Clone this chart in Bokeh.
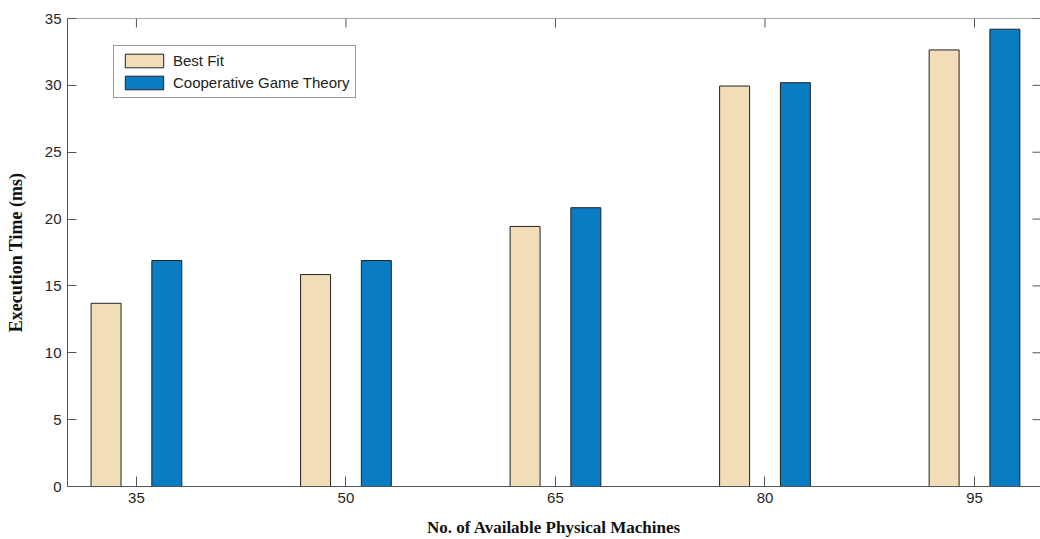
from bokeh.plotting import figure
from bokeh.models import (Range1d, FixedTicker, ColumnDataSource, Legend, LegendItem, Span)
from bokeh.transform import dodge
from bokeh.embed import file_html
from bokeh.resources import INLINE

# ---- data ----
categories = ["35", "50", "65", "80", "95"]
best_fit = [13.7, 15.85, 19.45, 29.95, 32.65]
coop_game = [16.9, 16.9, 20.85, 30.2, 34.2]
y_ticks = [0, 5, 10, 15, 20, 25, 30, 35]

xpos = list(range(1, len(categories) + 1))
src = ColumnDataSource(dict(x=xpos, bf=best_fit, cg=coop_game))

AX = "#555555"
TXT = "#262626"

FRAME_W = 973   # frame width in px (67 .. 1040)
FRAME_H = 468   # frame height in px (18 .. 486)

p = figure(width=1040, height=539, output_backend="svg", toolbar_location=None,
           x_range=Range1d(0.671, 5.315), y_range=Range1d(0, 35),
           min_border_left=67, min_border_right=0, min_border_top=18,
           min_border_bottom=0, outline_line_color=None,
           background_fill_color="white", border_fill_color="white")
p.xgrid.visible = False
p.ygrid.visible = False

# pixel-unit helper ranges for the top / right inward ticks
p.extra_y_ranges = {"py": Range1d(0, FRAME_H)}
p.extra_x_ranges = {"px": Range1d(0, FRAME_W)}

r1 = p.vbar(x=dodge("x", -0.145), top="bf", width=0.143, source=src,
            fill_color="#F2DDB9", line_color="#222222", line_width=1)
r2 = p.vbar(x=dodge("x", 0.145), top="cg", width=0.143, source=src,
            fill_color="#0A7CC4", line_color="#222222", line_width=1)

# top border line
p.add_layout(Span(location=35, dimension="width", line_color=AX, line_width=1))

# top inward ticks at the category positions
top_src = ColumnDataSource(dict(x=xpos, y0=[FRAME_H] * len(xpos), y1=[FRAME_H - 9] * len(xpos)))
p.segment(x0="x", y0="y0", x1="x", y1="y1", source=top_src, y_range_name="py",
          line_color=AX, line_width=1)
# right inward ticks at the y tick values
right_src = ColumnDataSource(dict(y=y_ticks, x0=[FRAME_W] * len(y_ticks),
                                  x1=[FRAME_W - 8] * len(y_ticks)))
p.segment(x0="x0", y0="y", x1="x1", y1="y", source=right_src, x_range_name="px",
          line_color=AX, line_width=1)

# bottom axis
xa = p.xaxis[0]
xa.ticker = FixedTicker(ticks=xpos)
xa.major_label_overrides = {i + 1: c for i, c in enumerate(categories)}
xa.minor_tick_line_color = None
xa.major_tick_in = 10
xa.major_tick_out = 0
xa.axis_line_color = AX
xa.major_tick_line_color = AX
xa.major_label_text_font = "Liberation Sans"
xa.major_label_text_font_size = "15px"
xa.major_label_text_color = TXT
xa.major_label_standoff = 6
xa.axis_label = "No. of Available Physical Machines"
xa.axis_label_text_font = "Liberation Serif"
xa.axis_label_text_font_style = "bold"
xa.axis_label_text_font_size = "17px"
xa.axis_label_text_color = "#111111"
xa.axis_label_standoff = 12

# left axis
ya = p.yaxis[0]
ya.ticker = FixedTicker(ticks=y_ticks)
ya.minor_tick_line_color = None
ya.major_tick_in = 9
ya.major_tick_out = 0
ya.axis_line_color = AX
ya.major_tick_line_color = AX
ya.major_label_text_font = "Liberation Sans"
ya.major_label_text_font_size = "15px"
ya.major_label_text_color = TXT
ya.major_label_standoff = 6
ya.axis_label = "Execution Time (ms)"
ya.axis_label_text_font = "Liberation Serif"
ya.axis_label_text_font_style = "bold"
ya.axis_label_text_font_size = "18px"
ya.axis_label_text_color = "#111111"
ya.axis_label_standoff = 16

legend = Legend(items=[LegendItem(label="Best Fit", renderers=[r1]),
                       LegendItem(label="Cooperative Game Theory", renderers=[r2])],
                location=(46, 388), glyph_width=48, glyph_height=17,
                label_height=17, spacing=5, padding=6, margin=0,
                label_standoff=5, label_text_font="Liberation Sans",
                label_text_font_size="15px", label_text_color="#222222",
                border_line_color="#333333", border_line_width=1,
                background_fill_color="white", background_fill_alpha=1)
p.add_layout(legend, "center")

open("out.html", "w").write(file_html(p, INLINE))
